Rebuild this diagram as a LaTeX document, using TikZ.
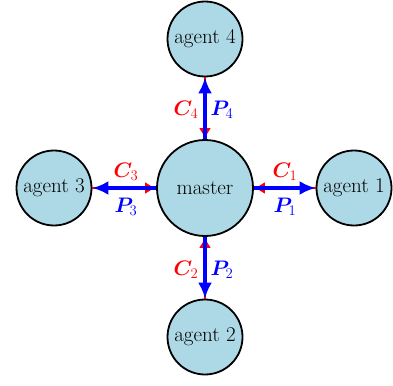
\RequirePackage{fix-cm}
\documentclass[tikz,border=0pt]{standalone}
\usepackage{fontspec}
\usepackage{bm}
\usetikzlibrary{arrows.meta}
\definecolor{nodefill}{RGB}{173,216,230}
\begin{document}
\begin{tikzpicture}[x=1pt,y=-1pt,
  font=\fontsize{21}{24}\selectfont,
  agentnode/.style={circle,draw=black,line width=1.8pt,fill=nodefill,minimum size=75pt,inner sep=0pt},
  masternode/.style={circle,draw=black,line width=1.8pt,fill=nodefill,minimum size=96pt,inner sep=0pt},
  costline/.style={red,line width=2pt,-{Latex[length=11pt,width=12pt]}},
  priceline/.style={blue,line width=4pt,-{Latex[length=16pt,width=14pt]}},
  clabel/.style={text=red},
  plabel/.style={text=blue}]
\useasboundingbox (0,0) rectangle (393,385);
\node[masternode] (m) at (205,188) {master};
\node[agentnode] (a1) at (354,188) {agent 1};
\node[agentnode] (a2) at (205,337) {agent 2};
\node[agentnode] (a3) at (54,188) {agent 3};
\node[agentnode] (a4) at (205,39) {agent 4};
% coordination signals from the agents to the master
\foreach \i in {1,2,3,4} \draw[costline] (a\i) -- (m);
% prices from the master to the agents
\foreach \i in {1,2,3,4} \draw[priceline] (m) -- (a\i);
\node[clabel] (c1) at (285,172) {$\bm{C}_1$};
\node[plabel] (p1) at (285,207) {$\bm{P}_1$};
\node[clabel] (c3) at (126,172) {$\bm{C}_3$};
\node[plabel] (p3) at (126,207) {$\bm{P}_3$};
\node[clabel] (c4) at (186,110) {$\bm{C}_4$};
\node[plabel] (p4) at (222,110) {$\bm{P}_4$};
\node[clabel] (c2) at (186,270) {$\bm{C}_2$};
\node[plabel] (p2) at (222,270) {$\bm{P}_2$};
\end{tikzpicture}
\end{document}
